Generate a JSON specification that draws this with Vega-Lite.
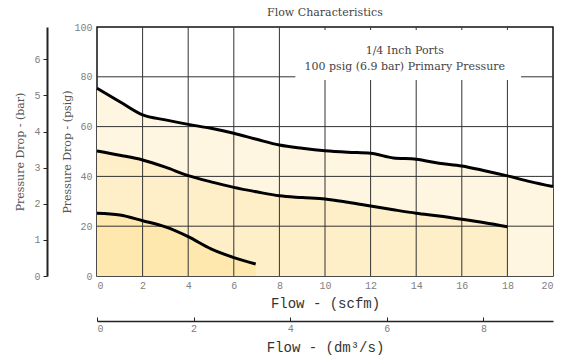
{
  "$schema": "https://vega.github.io/schema/vega-lite/v6.json",
  "width": 456,
  "height": 249,
  "autosize": {"type": "none"},
  "padding": {"left": 97, "top": 27, "right": 10, "bottom": 88},
  "background": "white",
  "config": {
    "view": {"stroke": "#111", "strokeWidth": 1.5},
    "axis": {"grid": false}
  },
  "title": {
    "text": "Flow Characteristics",
    "font": "DejaVu Serif",
    "fontSize": 11,
    "fontWeight": "normal",
    "color": "#444",
    "anchor": "middle",
    "offset": 4
  },
  "datasets": {
    "top": [
      {"flow": 0, "psig": 75.4}, {"flow": 1, "psig": 70}, {"flow": 2, "psig": 64.7},
      {"flow": 3, "psig": 62.7}, {"flow": 4, "psig": 60.9}, {"flow": 5, "psig": 59.3},
      {"flow": 6, "psig": 57.3}, {"flow": 7, "psig": 54.9}, {"flow": 8, "psig": 52.6},
      {"flow": 9, "psig": 51.3}, {"flow": 10, "psig": 50.3}, {"flow": 11, "psig": 49.7},
      {"flow": 12, "psig": 49.3}, {"flow": 13, "psig": 47.4}, {"flow": 14, "psig": 46.9},
      {"flow": 15, "psig": 45.3}, {"flow": 16, "psig": 44.2}, {"flow": 17, "psig": 42.3},
      {"flow": 18, "psig": 40.2}, {"flow": 19, "psig": 37.9}, {"flow": 20, "psig": 35.9}
    ],
    "mid": [
      {"flow": 0, "psig": 50.2}, {"flow": 1, "psig": 48.5}, {"flow": 2, "psig": 46.6},
      {"flow": 3, "psig": 43.7}, {"flow": 4, "psig": 40.3}, {"flow": 5, "psig": 37.8},
      {"flow": 6, "psig": 35.6}, {"flow": 7, "psig": 33.8}, {"flow": 8, "psig": 32.2},
      {"flow": 9, "psig": 31.5}, {"flow": 10, "psig": 30.9}, {"flow": 11, "psig": 29.6},
      {"flow": 12, "psig": 28.1}, {"flow": 13, "psig": 26.6}, {"flow": 14, "psig": 25.2},
      {"flow": 15, "psig": 24.1}, {"flow": 16, "psig": 22.8}, {"flow": 17, "psig": 21.4},
      {"flow": 18, "psig": 19.8}
    ],
    "low": [
      {"flow": 0, "psig": 25.2}, {"flow": 1, "psig": 24.5}, {"flow": 2, "psig": 22.2},
      {"flow": 3, "psig": 19.7}, {"flow": 4, "psig": 15.8}, {"flow": 5, "psig": 10.9},
      {"flow": 6, "psig": 7.4}, {"flow": 6.96, "psig": 4.8}
    ],
    "gridx": [
      {"v": 2}, {"v": 4}, {"v": 6}, {"v": 8}, {"v": 10}, {"v": 12}, {"v": 14}, {"v": 16}, {"v": 18}
    ],
    "gridy": [
      {"v": 20}, {"v": 40}, {"v": 60}, {"v": 80}
    ],
    "metric": [
      {"dm3": 0, "bar": 0}, {"dm3": 9.44, "bar": 6.897}
    ]
  },
  "layer": [
    {
      "encoding": {
        "x": {
          "type": "quantitative",
          "scale": {"domain": [0, 20], "nice": false, "zero": false},
          "axis": {
            "orient": "bottom",
            "title": "Flow - (scfm)",
            "values": [0, 2, 4, 6, 8, 10, 12, 14, 16, 18, 20],
            "domain": false,
            "ticks": false,
            "labelPadding": 4,
            "labelFont": "Liberation Mono",
            "labelFontSize": 10,
            "labelColor": "#808080",
            "titleFont": "Liberation Mono",
            "titleFontSize": 14,
            "titleFontWeight": "normal",
            "titleColor": "#333",
            "titlePadding": 6
          }
        },
        "y": {
          "type": "quantitative",
          "scale": {"domain": [0, 100], "nice": false},
          "axis": {
            "orient": "left",
            "title": "Pressure Drop - (psig)",
            "values": [0, 20, 40, 60, 80, 100],
            "domain": false,
            "ticks": false,
            "labelPadding": 5,
            "labelFont": "Liberation Mono",
            "labelFontSize": 10,
            "labelColor": "#808080",
            "titleFont": "DejaVu Serif",
            "titleFontSize": 11,
            "titleFontWeight": "normal",
            "titleColor": "#555",
            "titlePadding": 1
          }
        }
      },
      "layer": [
        {
          "data": {"name": "top"},
          "mark": {"type": "area", "color": "#FEF6E1", "interpolate": "monotone"},
          "encoding": {"x": {"field": "flow"}, "y": {"field": "psig"}}
        },
        {
          "data": {"name": "mid"},
          "mark": {"type": "area", "color": "#FFEFC9", "interpolate": "monotone"},
          "encoding": {"x": {"field": "flow"}, "y": {"field": "psig"}}
        },
        {
          "data": {"name": "low"},
          "mark": {"type": "area", "color": "#FFE8AE", "interpolate": "monotone"},
          "encoding": {"x": {"field": "flow"}, "y": {"field": "psig"}}
        },
        {
          "data": {"name": "gridx"},
          "mark": {"type": "rule", "color": "#333", "strokeWidth": 1},
          "encoding": {"x": {"field": "v"}}
        },
        {
          "data": {"name": "gridy"},
          "mark": {"type": "rule", "color": "#333", "strokeWidth": 1},
          "encoding": {"y": {"field": "v"}}
        },
        {
          "data": {"values": [{}]},
          "mark": {"type": "rect", "color": "white"},
          "encoding": {
            "x": {"datum": 8.7},
            "x2": {"datum": 18.6},
            "y": {"datum": 78.7},
            "y2": {"datum": 98.8}
          }
        },
        {
          "data": {"name": "top"},
          "mark": {"type": "line", "color": "black", "strokeWidth": 3, "interpolate": "monotone"},
          "encoding": {"x": {"field": "flow"}, "y": {"field": "psig"}}
        },
        {
          "data": {"name": "mid"},
          "mark": {"type": "line", "color": "black", "strokeWidth": 3, "interpolate": "monotone"},
          "encoding": {"x": {"field": "flow"}, "y": {"field": "psig"}}
        },
        {
          "data": {"name": "low"},
          "mark": {"type": "line", "color": "black", "strokeWidth": 3, "interpolate": "monotone"},
          "encoding": {"x": {"field": "flow"}, "y": {"field": "psig"}}
        },
        {
          "data": {"values": [{}]},
          "mark": {
            "type": "text",
            "text": ["1/4 Inch Ports", "100 psig (6.9 bar) Primary Pressure"],
            "font": "DejaVu Serif",
            "fontSize": 11,
            "color": "#444",
            "lineHeight": 16.6,
            "align": "center",
            "baseline": "middle"
          },
          "encoding": {"x": {"datum": 13.5}, "y": {"datum": 90.5}}
        }
      ]
    },
    {
      "data": {"name": "metric"},
      "mark": {"type": "point", "opacity": 0},
      "encoding": {
        "x": {
          "field": "dm3",
          "type": "quantitative",
          "scale": {"domain": [0, 9.44], "nice": false, "zero": false},
          "axis": {
            "orient": "bottom",
            "offset": 45,
            "title": "Flow - (dm³/s)",
            "values": [0, 2, 4, 6, 8],
            "domainColor": "#222",
            "domainWidth": 1.5,
            "tickColor": "#222",
            "tickSize": -4,
            "tickWidth": 1,
            "labelPadding": 6,
            "labelFont": "Liberation Mono",
            "labelFontSize": 10,
            "labelColor": "#808080",
            "titleFont": "Liberation Mono",
            "titleFontSize": 14,
            "titleFontWeight": "normal",
            "titleColor": "#333",
            "titlePadding": 7
          }
        },
        "y": {
          "field": "bar",
          "type": "quantitative",
          "scale": {"domain": [0, 6.897], "nice": false},
          "axis": {
            "orient": "left",
            "offset": 50,
            "title": "Pressure Drop - (bar)",
            "values": [0, 1, 2, 3, 4, 5, 6],
            "domainColor": "#222",
            "domainWidth": 2,
            "tickColor": "#222",
            "tickSize": 4,
            "tickWidth": 1,
            "labelPadding": 3,
            "labelFont": "Liberation Mono",
            "labelFontSize": 10,
            "labelColor": "#808080",
            "titleFont": "DejaVu Serif",
            "titleFontSize": 11,
            "titleFontWeight": "normal",
            "titleColor": "#555",
            "titlePadding": 8
          }
        }
      }
    }
  ],
  "resolve": {"scale": {"x": "independent", "y": "independent"}}
}
